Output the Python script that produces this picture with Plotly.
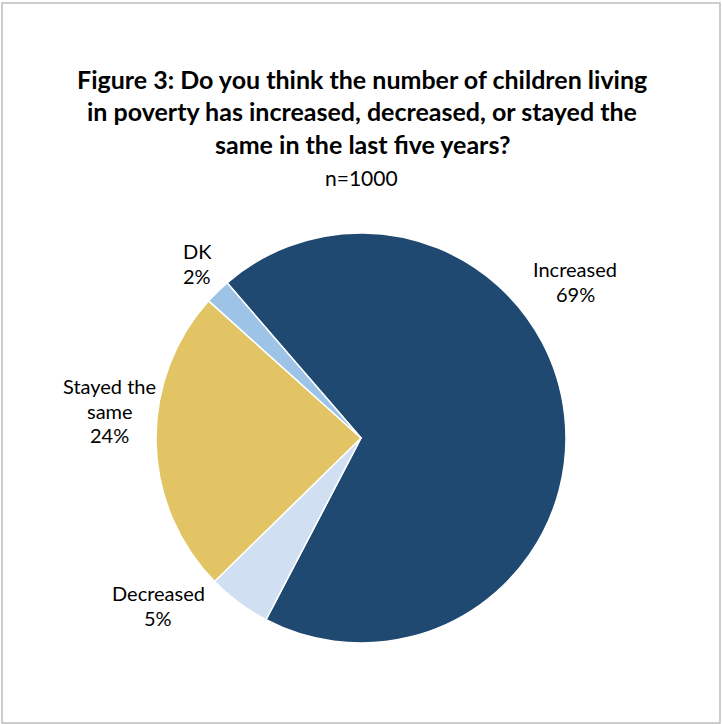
import plotly.graph_objects as go

categories = ["Increased", "Decreased", "Stayed the same", "DK"]
values = [69, 5, 24, 2]
colors = ["#1F4970", "#D0E0F2", "#E2C465", "#9DC3E6"]
label_lines = [["Increased"], ["Decreased"], ["Stayed the", "same"], ["DK"]]
title_lines = [
    "Figure 3: Do you think the number of children living",
    "in poverty has increased, decreased, or stayed the",
    "same in the last five years?",
]
subtitle = "n=1000"

W, H = 722, 724
FONT = "Lato, 'Open Sans', sans-serif"

fig = go.Figure(go.Pie(
    labels=categories,
    values=values,
    sort=False,
    direction="clockwise",
    rotation=-40.8,
    marker=dict(colors=colors, line=dict(color="white", width=1.5)),
    textinfo="none",
    hoverinfo="label+percent",
    showlegend=False,
    domain=dict(x=[156 / W, 566 / W], y=[1 - 643 / H, 1 - 233 / H]),
))

annotations = []
# title
title_y = [79, 111, 144]
for t, yy in zip(title_lines, title_y):
    annotations.append(dict(text="<b>" + t + "</b>", x=362 / W, y=1 - yy / H,
                            xref="paper", yref="paper", showarrow=False,
                            xanchor="center", yanchor="middle",
                            font=dict(family=FONT, size=25, color="#000000")))
annotations.append(dict(text=subtitle, x=361 / W, y=1 - 177 / H,
                        xref="paper", yref="paper", showarrow=False,
                        xanchor="center", yanchor="middle",
                        font=dict(family=FONT, size=21, color="#000000")))

# data labels: (center x, first-line center y)
label_pos = {"Increased": (575, 269), "Decreased": (158, 593),
             "Stayed the same": (110, 386), "DK": (197, 251)}
LINE = 24.5
total = sum(values)
for cat, lab, v in zip(categories, label_lines, values):
    px, py = label_pos[cat]
    lines = lab + [f"{round(100 * v / total)}%"]
    for i, ln in enumerate(lines):
        annotations.append(dict(text=ln, x=px / W, y=1 - (py + i * LINE) / H,
                                xref="paper", yref="paper", showarrow=False,
                                xanchor="center", yanchor="middle",
                                font=dict(family=FONT, size=20, color="#000000")))

fig.update_layout(
    width=W, height=H,
    margin=dict(l=0, r=0, t=0, b=0),
    paper_bgcolor="white",
    plot_bgcolor="white",
    annotations=annotations,
    shapes=[dict(type="rect", xref="paper", yref="paper",
                 x0=2 / W, x1=720 / W, y0=1 - 723 / H, y1=1 - 3 / H,
                 line=dict(color="#BDBDBD", width=1.5), fillcolor="rgba(0,0,0,0)")],
)

fig.write_html("out.html")
